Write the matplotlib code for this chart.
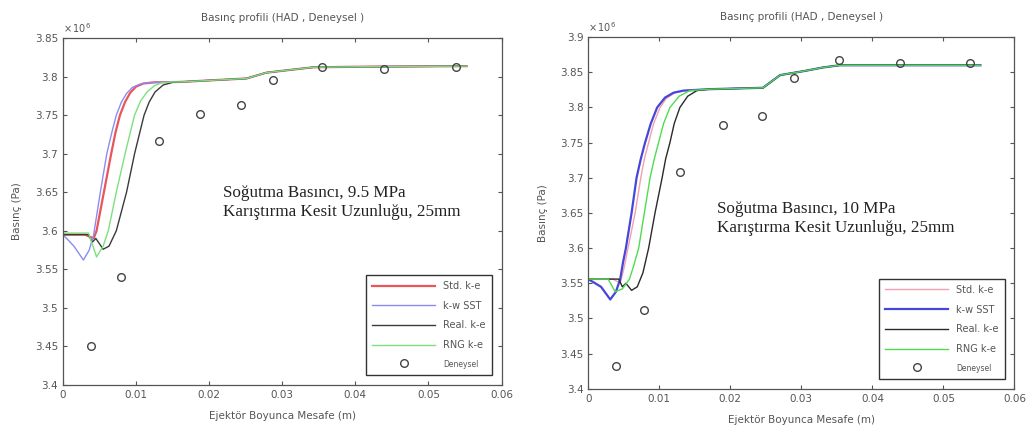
import matplotlib.pyplot as plt

# sol grafik: Sogutma basinci 9.5 MPa
sol_std_x = [0, 0.003, 0.0042, 0.0046, 0.0051, 0.0056, 0.0066, 0.0072, 0.0078, 0.0085, 0.0092, 0.010, 0.011, 0.0125]
sol_std_y = [3.595, 3.595, 3.590, 3.600, 3.625, 3.650, 3.700, 3.728, 3.750, 3.767, 3.779, 3.787, 3.791, 3.7925]
sol_sst_x = [0, 0.0015, 0.0028, 0.0036, 0.0042, 0.0047, 0.0052, 0.006, 0.0067, 0.0073, 0.008, 0.0087, 0.0095, 0.0105, 0.0115, 0.013]
sol_sst_y = [3.595, 3.580, 3.562, 3.575, 3.595, 3.625, 3.655, 3.700, 3.728, 3.750, 3.767, 3.778, 3.786, 3.790, 3.792, 3.7925]
sol_real_x = [0, 0.0035, 0.004, 0.0045, 0.0055, 0.0063, 0.0073, 0.008, 0.0087, 0.0098, 0.0105, 0.0111, 0.0118, 0.0126, 0.0137, 0.015]
sol_real_y = [3.595, 3.595, 3.585, 3.590, 3.576, 3.580, 3.600, 3.625, 3.650, 3.700, 3.727, 3.750, 3.767, 3.780, 3.789, 3.7925]
sol_rng_x = [0, 0.0035, 0.0046, 0.0055, 0.0062, 0.0073, 0.0085, 0.0092, 0.0098, 0.0106, 0.0115, 0.0125, 0.0135, 0.015]
sol_rng_y = [3.597, 3.597, 3.566, 3.580, 3.600, 3.650, 3.700, 3.727, 3.750, 3.768, 3.780, 3.788, 3.792, 3.793]
sol_son_x = [0.016, 0.0251, 0.0278, 0.0314, 0.0342, 0.041, 0.0552]
sol_son_y = [3.793, 3.7975, 3.805, 3.809, 3.812, 3.8128, 3.8135]
sol_deney_x = [0.0039, 0.0079, 0.0131, 0.0188, 0.0243, 0.0288, 0.0354, 0.0439, 0.0538]
sol_deney_y = [3.450, 3.540, 3.717, 3.751, 3.763, 3.796, 3.813, 3.810, 3.813]

# sag grafik: Sogutma basinci 10 MPa
sag_std_x = [0, 0.0035, 0.0045, 0.005, 0.0056, 0.0066, 0.0074, 0.0079, 0.0085, 0.0092, 0.0101, 0.011, 0.0122, 0.0137]
sag_std_y = [3.556, 3.556, 3.550, 3.570, 3.600, 3.650, 3.700, 3.727, 3.750, 3.777, 3.800, 3.813, 3.821, 3.824]
sag_sst_x = [0, 0.0018, 0.0031, 0.0039, 0.0045, 0.0049, 0.0053, 0.0061, 0.0068, 0.0074, 0.008, 0.0088, 0.0097, 0.0108, 0.012, 0.0134]
sag_sst_y = [3.556, 3.545, 3.527, 3.538, 3.556, 3.580, 3.600, 3.650, 3.700, 3.727, 3.750, 3.777, 3.800, 3.814, 3.821, 3.824]
sag_real_x = [0, 0.0043, 0.0048, 0.0053, 0.0061, 0.0069, 0.0077, 0.0085, 0.0094, 0.0104, 0.0109, 0.0115, 0.0121, 0.0129, 0.014, 0.0153]
sag_real_y = [3.556, 3.556, 3.545, 3.550, 3.540, 3.545, 3.565, 3.600, 3.650, 3.700, 3.727, 3.750, 3.777, 3.800, 3.816, 3.824]
sag_rng_x = [0, 0.0028, 0.0038, 0.0048, 0.0058, 0.0064, 0.0071, 0.0079, 0.0087, 0.0093, 0.0099, 0.0106, 0.0115, 0.0128, 0.0143]
sag_rng_y = [3.556, 3.556, 3.538, 3.542, 3.556, 3.575, 3.600, 3.650, 3.700, 3.727, 3.750, 3.777, 3.800, 3.816, 3.824]
sag_son_x = [0.017, 0.0246, 0.027, 0.0305, 0.0331, 0.0354, 0.0552]
sag_son_y = [3.826, 3.828, 3.846, 3.852, 3.857, 3.860, 3.860]
sag_deney_x = [0.00384, 0.00782, 0.01296, 0.01895, 0.02443, 0.0290, 0.03534, 0.04385, 0.0538]
sag_deney_y = [3.433, 3.5115, 3.7076, 3.7757, 3.788, 3.842, 3.867, 3.863, 3.863]

etiketler = ["Std. k-e", "k-w SST", "Real. k-e", "RNG k-e", "Deneysel"]
sol_yticks = [3.4, 3.45, 3.5, 3.55, 3.6, 3.65, 3.7, 3.75, 3.8, 3.85]
sag_yticks = [3.4, 3.45, 3.5, 3.55, 3.6, 3.65, 3.7, 3.75, 3.8, 3.85, 3.9]
xticks = [0, 0.01, 0.02, 0.03, 0.04, 0.05, 0.06]

gri = "#555555"
fig = plt.figure(figsize=(10.32, 4.32), dpi=100)
ax1 = fig.add_axes([0.061, 0.109, 0.425, 0.803])
ax2 = fig.add_axes([0.570, 0.100, 0.413, 0.814])


def ciz(ax, seriler, son_x, son_y, dx, dy, renkler, kalin, yticks, ylim, yazi, yazi_xy):
    for i, (sx, sy) in enumerate(seriler):
        lw = 1.6 if i == kalin else 1.0
        ax.plot(sx + son_x, sy + son_y, color=renkler[i], lw=lw, label=etiketler[i])
    ax.plot(dx, dy, 'o', mfc='none', mec='#444444', ms=5.5, mew=1.0, label=etiketler[4])
    ax.set_xlim(0, 0.06)
    ax.set_ylim(*ylim)
    ax.set_xticks(xticks)
    ax.set_xticklabels([("%g" % t) for t in xticks])
    ax.set_yticks(yticks)
    ax.set_yticklabels([("%g" % t) for t in yticks])
    ax.tick_params(direction='in', top=True, right=True, labelsize=7.5, colors=gri, length=3)
    for s in ax.spines.values():
        s.set_color(gri)
        s.set_linewidth(0.9)
    ax.set_title("Basınç profili (HAD , Deneysel )", fontsize=7.5, color=gri, pad=12)
    ax.set_xlabel("Ejektör Boyunca Mesafe (m)", fontsize=7.5, color=gri, labelpad=8)
    ax.set_ylabel("Basınç (Pa)", fontsize=7.5, color=gri, labelpad=9)
    ax.text(0.0, 1.01, r"$\times\,10^6$", transform=ax.transAxes, fontsize=7, color=gri, va='bottom')
    ax.text(yazi_xy[0], yazi_xy[1], yazi, fontsize=12.3, family="Liberation Serif", color="#222222",
            va='center', linespacing=1.25)
    leg = ax.legend(loc='lower right', fontsize=7, handlelength=6.5, fancybox=False,
                    edgecolor='#333333', borderaxespad=1.0, labelspacing=1.0, framealpha=1,
                    borderpad=0.65)
    leg.get_frame().set_linewidth(1.0)
    for t in leg.get_texts():
        t.set_color(gri)
    leg.get_texts()[4].set_fontsize(5.5)


ciz(ax1,
    [(sol_std_x, sol_std_y), (sol_sst_x, sol_sst_y), (sol_real_x, sol_real_y), (sol_rng_x, sol_rng_y)],
    sol_son_x, sol_son_y, sol_deney_x, sol_deney_y,
    ["#e8555a", "#8c8cf0", "#3a3a3a", "#7de07d"], 0, sol_yticks, (3.4, 3.85),
    "Soğutma Basıncı, 9.5 MPa\nKarıştırma Kesit Uzunluğu, 25mm", (0.0219, 3.637))

ciz(ax2,
    [(sag_std_x, sag_std_y), (sag_sst_x, sag_sst_y), (sag_real_x, sag_real_y), (sag_rng_x, sag_rng_y)],
    sag_son_x, sag_son_y, sag_deney_x, sag_deney_y,
    ["#f0a0b0", "#4646d8", "#2a2a2a", "#4fdc4f"], 1, sag_yticks, (3.4, 3.9),
    "Soğutma Basıncı, 10 MPa\nKarıştırma Kesit Uzunluğu, 25mm", (0.0181, 3.642))

fig.savefig("out.png", dpi=100)
